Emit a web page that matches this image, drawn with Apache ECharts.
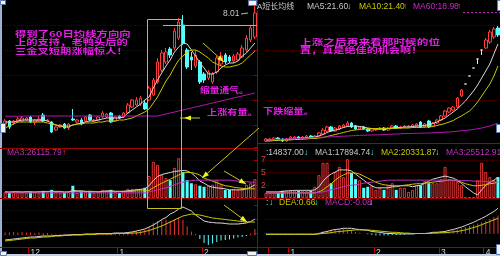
<!DOCTYPE html>
<html><head><meta charset="utf-8">
<script src="https://cdn.jsdelivr.net/npm/echarts@6/dist/echarts.min.js"></script>
<style>html,body{margin:0;padding:0;background:#000;}#c{width:500px;height:256px;}</style>
</head><body><div id="c"></div>
<script>
// ---------------- LEFT PANEL DATA ----------------
const leftTickIdx = [6, 27, 47];
const leftTickText = ['12', '1', '2'];
// [open, close, low, high]
const leftCandles = [
[3.54,3.66,3.46,3.74],[3.66,3.42,3.34,3.70],[3.58,3.66,3.50,3.70],[3.66,3.74,3.58,3.82],[3.66,3.78,3.62,3.86],
[3.70,3.78,3.66,3.82],[3.82,3.62,3.58,3.86],[3.62,3.70,3.50,3.74],[3.66,3.74,3.62,3.86],[3.90,3.66,3.62,3.98],
[3.66,3.70,3.62,3.74],[3.62,3.22,3.18,3.66],[3.30,3.42,3.26,3.46],[3.42,3.50,3.38,3.54],[3.54,3.38,3.34,3.58],
[3.38,3.54,3.30,3.58],[3.74,3.70,3.66,4.14],[3.62,3.70,3.58,3.74],[3.70,3.54,3.50,3.78],[3.66,3.82,3.62,3.86],
[3.90,3.70,3.66,3.94],[3.66,3.70,3.62,3.74],[3.70,3.82,3.66,3.86],[3.82,3.98,3.78,4.06],[3.82,3.94,3.78,3.98],
[3.98,3.62,3.58,4.02],[3.66,3.82,3.62,3.86],[3.86,3.78,3.74,3.90],[3.82,3.98,3.78,4.02],[3.98,4.30,3.94,4.38],
[4.22,4.50,4.18,4.54],[4.30,4.50,4.26,4.62],[4.34,4.58,4.26,4.66],[4.38,4.14,4.10,4.50],[4.50,4.98,4.46,5.06],
[4.70,5.30,4.66,5.38],[5.22,6.02,5.14,6.18],[5.70,6.38,5.62,6.50],[6.02,6.42,5.94,6.58],[6.54,6.30,6.18,6.62],
[6.58,7.26,6.50,7.38],[6.98,7.62,6.90,7.78],[7.50,6.78,6.70,7.90],[6.50,5.82,5.74,6.58],[6.22,6.10,5.70,6.42],
[5.86,6.30,5.78,6.50],[6.02,5.22,5.14,6.10],[5.54,5.30,5.18,5.62],[5.38,5.62,5.30,5.70],[5.22,5.54,5.14,5.62],
[5.62,6.18,5.54,6.26],[5.94,6.26,5.86,6.42],[6.30,6.02,5.94,6.38],[6.22,6.06,5.98,6.30],[6.06,6.26,5.98,6.34],
[6.10,6.34,6.06,6.42],[6.22,6.58,6.18,6.70],[6.50,6.98,6.42,7.10],[6.90,7.38,6.82,7.50],[7.02,7.98,6.94,8.42]
];
const leftMA5 = [3.62,3.62,3.62,3.66,3.70,3.70,3.70,3.70,3.70,3.70,3.66,3.58,3.50,3.46,3.42,3.42,3.50,3.54,3.58,3.62,
3.66,3.66,3.70,3.74,3.78,3.78,3.78,3.78,3.82,3.98,4.10,4.22,4.34,4.50,4.62,4.98,5.30,5.58,5.86,6.10,
6.42,6.62,6.78,6.74,6.50,6.26,5.98,5.78,5.54,5.54,5.62,5.78,5.90,5.98,5.98,6.06,6.26,6.38,6.58,6.78];
const leftMA10 = [3.38,3.46,3.54,3.62,3.62,3.62,3.62,3.62,3.62,3.62,3.58,3.54,3.50,3.46,3.46,3.46,3.50,3.54,3.54,3.58,
3.58,3.58,3.62,3.62,3.66,3.66,3.66,3.70,3.70,3.74,3.78,3.86,3.94,4.02,4.14,4.38,4.62,4.94,5.26,5.50,
5.82,6.10,6.26,6.42,6.50,6.50,6.42,6.30,6.18,6.02,5.94,5.86,5.82,5.82,5.86,5.90,5.98,6.14,6.30,6.46];
const leftMA60 = [3.85,3.85,3.85,3.85,3.85,3.86,3.86,3.86,3.86,3.86,3.86,3.86,3.86,3.86,3.86,3.86,3.86,3.86,3.86,3.86,
3.86,3.86,3.86,3.86,3.86,3.86,3.86,3.86,3.86,3.86,3.86,3.86,3.86,3.86,3.86,3.86,3.86,3.90,3.94,3.98,
4.02,4.06,4.10,4.14,4.18,4.22,4.26,4.30,4.34,4.38,4.42,4.46,4.50,4.54,4.58,4.62,4.66,4.70,4.74,4.78];
const leftVol = [1.2,1.0,1.2,1.2,1.2,1.0,1.2,1.2,1.0,1.4,1.0,1.6,1.2,1.0,1.0,1.2,2.4,1.0,1.2,1.2,
1.4,1.0,1.2,1.6,1.4,1.6,1.2,1.0,1.4,1.8,1.8,1.8,1.8,2.0,4.3,7.1,6.5,4.5,3.9,3.5,
5.9,7.8,5.1,3.5,2.9,2.7,2.4,2.2,2.4,2.6,3.5,2.7,1.6,1.6,1.8,1.6,2.0,2.6,2.9,3.7];
const leftVMA1 = [1.2,1.1,1.2,1.2,1.1,1.2,1.2,1.1,1.2,1.2,1.3,1.3,1.2,1.2,1.1,1.2,1.5,1.4,1.4,1.3,
1.2,1.2,1.2,1.3,1.4,1.4,1.3,1.3,1.3,1.4,1.5,1.6,1.7,1.8,2.4,3.4,4.2,4.6,4.8,5.0,
5.2,5.3,5.4,5.3,4.9,4.2,3.3,2.9,2.4,2.1,2.0,1.9,1.8,1.6,1.6,1.6,1.6,1.8,2.1,2.6];
const leftVMA2 = [1.2,1.2,1.2,1.2,1.2,1.2,1.2,1.2,1.2,1.2,1.2,1.3,1.3,1.3,1.2,1.2,1.3,1.3,1.3,1.3,
1.3,1.3,1.2,1.2,1.3,1.3,1.3,1.3,1.3,1.3,1.3,1.4,1.4,1.4,1.5,2.0,2.5,2.9,3.3,3.7,
4.1,4.5,4.9,5.0,5.0,4.8,4.5,3.9,3.6,3.3,3.0,2.7,2.4,2.3,2.1,2.0,1.9,1.8,1.8,1.8];
const leftVMA3 = [1.0,1.0,1.0,1.0,1.0,1.0,1.0,1.0,1.0,1.0,1.0,1.0,1.0,1.0,1.0,1.0,1.0,1.0,1.0,1.0,
1.0,1.0,1.0,1.0,1.0,1.0,1.0,1.0,1.0,1.0,1.0,1.0,1.0,1.0,1.2,1.4,1.6,1.8,2.0,2.3,
2.6,2.9,3.1,3.3,3.4,3.5,3.5,3.5,3.5,3.5,3.5,3.5,3.5,3.5,3.4,3.3,3.2,3.2,3.1,3.1];
const leftMACD = [0.05,0.05,0.06,0.05,0.06,0.05,0.05,0.04,0.05,0.04,0.04,0.02,0.01,0.02,0.01,0.02,0.02,0.01,0.02,0.02,
0.01,0.02,0.02,0.02,0.02,0.02,0.03,0.03,0.04,0.05,0.06,0.08,0.09,0.10,0.16,0.24,0.28,0.30,0.31,0.28,
0.31,0.35,0.30,0.17,0.07,0.02,-0.08,-0.16,-0.20,-0.17,-0.14,-0.11,-0.10,-0.09,-0.07,-0.05,-0.04,-0.02,0.03,0.12];
const leftDIF = [-0.10,-0.09,-0.08,-0.07,-0.06,-0.05,-0.04,-0.04,-0.03,-0.02,-0.02,-0.02,-0.01,-0.01,0.0,0.0,0.01,0.01,0.01,0.02,
0.02,0.02,0.03,0.03,0.03,0.03,0.04,0.04,0.04,0.05,0.06,0.08,0.10,0.12,0.16,0.20,0.25,0.31,0.35,0.42,
0.46,0.52,0.56,0.52,0.48,0.40,0.34,0.28,0.26,0.25,0.24,0.24,0.23,0.22,0.22,0.22,0.23,0.24,0.27,0.32];
const leftDEA = [-0.12,-0.11,-0.10,-0.09,-0.08,-0.07,-0.06,-0.06,-0.05,-0.04,-0.04,-0.03,-0.02,-0.02,-0.01,-0.01,0.0,0.0,0.0,0.01,
0.01,0.01,0.02,0.02,0.02,0.02,0.03,0.03,0.03,0.03,0.04,0.04,0.05,0.07,0.09,0.12,0.15,0.18,0.22,0.26,
0.30,0.34,0.38,0.40,0.42,0.41,0.40,0.38,0.36,0.34,0.33,0.32,0.31,0.30,0.29,0.28,0.27,0.26,0.26,0.26];

// ---------------- RIGHT PANEL DATA ----------------
const rightTickIdx = [1, 6, 27, 43, 54];
const rightTickText = ['', '1', '2', '3', '4'];
const rightCandles = [
[10.9,11.1,10.8,11.2],[11.0,11.1,10.9,11.2],[11.0,11.2,10.9,11.3],[11.2,11.0,10.9,11.3],[11.1,10.9,10.8,11.2],
[10.9,11.1,10.8,11.2],[11.1,11.3,11.0,11.4],[11.2,11.3,11.1,11.4],[11.3,11.1,11.0,11.4],[11.1,11.3,11.0,11.4],
[11.2,11.4,11.1,11.5],[11.4,11.2,11.1,11.5],[11.2,11.4,11.1,11.5],[11.4,11.7,11.3,11.8],[11.6,12.0,11.5,12.2],
[11.9,12.3,11.8,12.4],[12.3,11.9,11.8,12.4],[11.9,12.2,11.8,12.3],[12.1,12.4,12.0,12.5],[12.3,12.5,12.2,12.6],
[12.4,12.7,12.3,12.9],[12.7,12.3,12.2,12.8],[12.4,12.1,12.0,12.5],[12.1,12.3,12.0,12.4],[12.3,12.1,12.0,12.4],
[12.1,11.9,11.8,12.2],[11.9,12.1,11.8,12.2],[12.0,12.1,11.9,12.2],[12.1,12.2,12.0,12.3],[12.2,12.0,11.9,12.3],
[12.0,12.2,11.9,12.3],[12.2,12.4,12.1,12.5],[12.4,12.2,12.1,12.5],[12.2,12.3,12.1,12.4],[12.3,12.4,12.2,12.5],
[12.3,12.4,12.2,12.5],[12.3,12.5,12.2,12.6],[12.4,12.6,12.3,12.7],[12.8,12.3,12.2,12.9],[12.3,12.6,12.2,12.7],
[12.9,12.3,12.2,13.0],[12.4,12.7,12.3,12.8],[12.7,13.0,12.6,13.1],[13.0,13.4,12.9,13.5],[13.4,13.9,13.3,14.0],
[13.8,14.2,13.7,14.3],[14.0,14.3,13.9,14.4],[14.3,15.2,14.2,15.3],[15.4,16.0,15.3,16.1],[16.6,16.6,16.6,16.6],
[17.4,17.4,17.4,17.4],[18.2,18.2,18.2,18.2],[19.1,19.1,18.6,19.1],[20.0,20.0,19.5,20.0],[20.2,21.0,20.1,21.2],
[20.8,21.8,20.6,22.0],[21.3,22.1,21.1,22.3],[22.2,21.5,21.3,22.4]
];
const rightMA5 = [11.0,11.0,11.05,11.05,11.05,11.05,11.1,11.15,11.2,11.2,11.25,11.25,11.3,11.4,11.55,11.75,11.9,12.0,12.1,12.25,
12.35,12.4,12.4,12.35,12.3,12.2,12.15,12.1,12.1,12.1,12.15,12.2,12.25,12.25,12.3,12.3,12.35,12.4,12.4,12.45,
12.55,12.65,12.8,13.0,13.2,13.5,13.8,14.1,14.5,14.9,15.4,15.9,16.5,17.2,17.9,18.6,19.6,20.6];
const rightMA10 = [10.9,10.9,10.95,10.95,11.0,11.0,11.0,11.05,11.05,11.1,11.1,11.15,11.15,11.2,11.25,11.35,11.45,11.55,11.65,11.75,
11.85,11.95,12.0,12.05,12.1,12.1,12.15,12.15,12.15,12.15,12.15,12.15,12.15,12.2,12.2,12.2,12.25,12.25,12.25,12.3,
12.3,12.35,12.45,12.55,12.65,12.8,12.95,13.2,13.4,13.65,13.9,14.3,14.8,15.4,16.0,16.6,17.4,18.4];
const rightMA60 = [11.0,11.02,11.04,11.06,11.08,11.1,11.12,11.14,11.16,11.18,11.2,11.22,11.24,11.26,11.28,11.3,11.32,11.34,11.36,11.38,
11.4,11.42,11.44,11.46,11.48,11.49,11.5,11.51,11.52,11.54,11.56,11.58,11.6,11.62,11.64,11.65,11.66,11.67,11.68,11.69,
11.7,11.72,11.74,11.76,11.78,11.8,11.84,11.88,11.92,11.96,12.0,12.06,12.12,12.2,12.3,12.4,12.54,12.7];
const rightVol = [1.0,1.0,1.0,1.0,1.4,1.4,1.6,1.4,1.4,1.4,1.4,1.4,2.2,4.5,6.9,6.9,2.9,5.1,6.1,4.1,
7.6,4.9,3.7,3.5,2.0,2.2,2.4,1.6,2.0,1.6,2.5,2.9,1.6,2.0,2.0,1.2,1.6,2.5,2.5,3.3,
2.9,2.9,2.9,3.7,6.1,3.7,3.5,3.1,2.5,0.2,0.2,0.2,3.5,6.9,5.1,4.1,3.5,4.1];
const rightVMA1 = [1.2,1.2,1.2,1.2,1.3,1.4,1.4,1.5,1.5,1.5,1.5,1.5,1.6,2.2,3.3,4.1,4.7,5.1,5.5,5.5,
5.5,5.3,4.7,4.1,3.5,2.9,2.4,2.0,2.0,2.0,2.0,2.2,2.2,2.4,2.4,2.4,2.2,2.4,2.5,2.9,
3.3,3.7,3.9,4.1,4.3,4.1,3.9,3.5,2.9,2.2,1.6,1.0,0.6,1.6,2.5,3.1,3.5,4.1];
const rightVMA2 = [1.0,1.0,1.0,1.0,1.0,1.0,1.0,1.0,1.0,1.0,1.0,1.0,1.0,1.2,1.6,2.2,2.8,3.5,4.1,4.5,
4.9,4.9,4.9,4.7,4.3,3.9,3.5,3.1,2.8,2.6,2.5,2.4,2.4,2.4,2.5,2.6,2.7,2.8,2.8,2.9,
3.0,3.1,3.2,3.3,3.4,3.5,3.5,3.3,3.1,2.8,2.6,2.4,2.4,2.5,2.6,2.8,2.9,3.1];
const rightVMA3 = [1.0,1.0,1.0,1.0,1.0,1.0,1.0,1.0,1.0,1.0,1.0,1.0,1.0,1.1,1.2,1.4,1.6,1.8,2.0,2.2,
2.4,2.5,2.6,2.7,2.9,3.0,3.1,3.2,3.3,3.4,3.5,3.5,3.5,3.5,3.5,3.5,3.5,3.5,3.5,3.5,
3.5,3.5,3.5,3.5,3.5,3.5,3.5,3.5,3.4,3.4,3.4,3.3,3.3,3.3,3.2,3.2,3.2,3.1];
const rightMACD = [0.01,0.01,0.0,0.01,0.0,0.01,0.01,0.0,0.01,0.01,0.0,0.01,0.01,0.02,0.05,0.07,0.09,0.1,0.1,0.11,
0.1,0.09,0.04,0.02,0.0,-0.02,-0.04,-0.05,-0.05,-0.05,-0.05,-0.04,-0.04,-0.03,-0.03,-0.02,-0.02,-0.01,0.0,0.0,
0.01,0.02,0.02,0.03,0.03,0.05,0.08,0.1,0.13,0.16,0.19,0.22,0.25,0.28,0.32,0.36,0.41,0.45];
const rightDIF = [-0.02,-0.02,-0.02,-0.02,-0.02,-0.02,-0.02,-0.02,-0.02,-0.02,-0.02,-0.02,-0.02,0.0,0.03,0.05,0.08,0.1,0.11,0.13,
0.13,0.13,0.11,0.1,0.09,0.08,0.05,0.04,0.03,0.01,0.0,0.0,-0.01,-0.01,-0.01,-0.01,-0.01,0.0,0.0,0.0,
0.01,0.03,0.03,0.04,0.05,0.08,0.1,0.13,0.16,0.2,0.24,0.28,0.33,0.38,0.43,0.49,0.55,0.63];
const rightDEA = [-0.02,-0.02,-0.02,-0.02,-0.02,-0.02,-0.02,-0.02,-0.02,-0.02,-0.02,-0.02,-0.02,-0.01,0.0,0.01,0.02,0.04,0.05,0.06,
0.07,0.08,0.09,0.09,0.09,0.09,0.08,0.07,0.06,0.05,0.04,0.03,0.03,0.02,0.01,0.01,0.0,0.0,0.0,0.0,
0.0,0.01,0.01,0.02,0.02,0.03,0.04,0.05,0.07,0.09,0.12,0.15,0.18,0.22,0.26,0.3,0.34,0.38];

// ---------------- STYLES ----------------
const RED = '#ff3c3c', CYAN = '#54ffff', WHITE = '#d6d6d6', YEL = '#c8c800', MAG = '#c030c0', PUR = '#b018b0';
const SEP = '#a00000', DOT = '#420000';
const LATIN = "'Liberation Sans','DejaVu Sans','Noto Sans CJK SC'";
const CJK = "'Noto Sans CJK SC'";

function cats(n){ return Array.from({length:n}, (_, i) => String(i)); }

function xAxisFor(gi, n, bottom, tickIdx, tickText){
  const a = {type:'category', gridIndex:gi, data:cats(n), boundaryGap:true,
    axisLine:{show:false, onZero:false}, axisTick:{show:false}, axisLabel:{show:false}, splitLine:{show:false}};
  if (bottom){
    a.axisTick = {show:true, length:6, interval:(i)=>tickIdx.indexOf(i) >= 0, lineStyle:{color:'#c00000', width:1}};
    a.axisLabel = {show:true, interval:0, margin:1, align:'left', color:'#d4d4d4', fontSize:8.5, fontFamily:LATIN,
      formatter:(v, i)=>{ const k = tickIdx.indexOf(i); return k >= 0 ? tickText[k] : ''; }};
  }
  return a;
}
function yAxisFor(gi, min, max, interval, right, labels){
  const a = {type:'value', gridIndex:gi, min:min, max:max, interval:interval, scale:false,
    axisLine:{show:false}, axisTick:{show:false}, axisLabel:{show:false},
    splitLine:{show:true, showMinLine:false, showMaxLine:false, lineStyle:{color:DOT, type:'dotted', width:1}}};
  if (right){
    a.position = 'left'; a.offset = 7;
    a.axisLine = {show:true, onZero:false, lineStyle:{color:SEP, width:1}};
    a.axisTick = {show:true, length:3, lineStyle:{color:SEP}};
  }
  if (labels){
    a.axisLabel = {show:true, inside:true, margin:4, color:'#d04848', fontSize:8.5, fontFamily:LATIN,
      formatter:(v)=> (v > 0 && v < max) ? String(Math.floor(v)) : ''};
  }
  return a;
}
function volData(vols, candles){
  return vols.map((v, i) => ({value:v, itemStyle: candles[i][1] >= candles[i][0]
    ? {color:'#000', borderColor:'#e83434', borderWidth:1} : {color:CYAN, borderColor:CYAN, borderWidth:0}}));
}
function macdData(arr){
  return arr.map(v => ({value:v, itemStyle:{color: v >= 0 ? '#e83434' : CYAN}}));
}
function line(data, xi, yi, color, z){
  return {type:'line', data:data, xAxisIndex:xi, yAxisIndex:yi, showSymbol:false, symbol:'none', clip:true,
    lineStyle:{color:color, width:1}, z:z || 3, silent:true};
}
const candleStyle = {color:'#000', color0:CYAN, borderColor:RED, borderColor0:CYAN, borderColorDoji:'#e8e8e8', borderWidth:1};

const series = [
  {type:'candlestick', data:leftCandles, xAxisIndex:0, yAxisIndex:0, barWidth:3, itemStyle:candleStyle, z:2, clip:true},
  line(leftMA5, 0, 0, WHITE), line(leftMA10, 0, 0, YEL), line(leftMA60, 0, 0, PUR),
  {type:'bar', data:volData(leftVol, leftCandles), xAxisIndex:1, yAxisIndex:1, barWidth:3, z:2},
  line(leftVMA1, 1, 1, WHITE), line(leftVMA2, 1, 1, YEL), line(leftVMA3, 1, 1, MAG),
  {type:'bar', data:macdData(leftMACD), xAxisIndex:2, yAxisIndex:2, barWidth:1, z:2},
  line(leftDIF, 2, 2, WHITE), line(leftDEA, 2, 2, YEL),
  {type:'candlestick', data:rightCandles, xAxisIndex:3, yAxisIndex:3, barWidth:3, itemStyle:candleStyle, z:2, clip:true},
  line(rightMA5, 3, 3, WHITE), line(rightMA10, 3, 3, YEL), line(rightMA60, 3, 3, PUR),
  {type:'bar', data:volData(rightVol, rightCandles), xAxisIndex:4, yAxisIndex:4, barWidth:3, z:2},
  line(rightVMA1, 4, 4, WHITE), line(rightVMA2, 4, 4, YEL), line(rightVMA3, 4, 4, MAG),
  {type:'bar', data:macdData(rightMACD), xAxisIndex:5, yAxisIndex:5, barWidth:1, z:2},
  line(rightDIF, 5, 5, WHITE), line(rightDEA, 5, 5, YEL)
];

// ---------------- ANNOTATION GRAPHICS ----------------
const G = [];
function gLine(x1, y1, x2, y2, color, w, dash){
  G.push({type:'line', z:100, silent:true, shape:{x1, y1, x2, y2}, style:{stroke:color, lineWidth:w || 1, lineDash:dash || null}});
}
function gRect(x, y, w, h, fill, stroke){
  G.push({type:'rect', z:100, silent:true, shape:{x, y, width:w, height:h}, style:{fill:fill || 'none', stroke:stroke || null, lineWidth:1}});
}
function gHead(x1, y1, x2, y2, color, len, half){
  const dx = x2 - x1, dy = y2 - y1, d = Math.sqrt(dx*dx + dy*dy), ux = dx/d, uy = dy/d;
  const bx = x2 - ux*len, by = y2 - uy*len;
  G.push({type:'polygon', z:101, silent:true, shape:{points:[[x2, y2], [bx - uy*half, by + ux*half], [bx + uy*half, by - ux*half]]},
    style:{fill:color}});
}
function gText(text, x, y, fill, size, family, weight, sx){
  G.push({type:'text', z:102, silent:true, x:x, y:y, scaleX:sx || 1, originX:0, originY:0,
    style:{text:text, fill:fill, fontSize:size, fontFamily:family, fontWeight:weight || 'normal',
      textAlign:'left', textVerticalAlign:'middle', verticalAlign:'middle'}});
}
// frame borders & separators
gRect(0, 0, 2, 256, '#9db2d4');
gRect(0, 254, 500, 2, '#c4d0e4');
gLine(0, 148.5, 257, 148.5, SEP);
gLine(257, 143.5, 500, 143.5, SEP);
gLine(0, 198.5, 500, 198.5, SEP);
gLine(0, 247.5, 500, 247.5, SEP);
gLine(257.5, 0, 257.5, 254, SEP);
// small white handles
[[0,0,5,4],[0,123,5,9],[248,0,8,5],[0,251,6,4],[247,251,9,4],[497,0,3,10],[496,124,4,8],[496,244,4,10]]
  .forEach(b => gRect(b[0] + 0.5, b[1] + 0.5, b[2], b[3], '#f2f2f2', '#5a78b8'));

// left texts
gText('MA3:26115.79', 7, 153, MAG, 8.5, LATIN);
gText('↑', 62, 153, RED, 8.5, LATIN);
gText('8.01', 223, 14, '#c8c8c8', 8.5, LATIN);
gLine(241, 14, 248, 13, '#b8b8b8');
// right title row
gText('A短长均线', 257, 7, '#c8c8c8', 8, LATIN);
gText('MA5:21.60', 307, 7, '#c8c8c8', 8.5, LATIN);
gText('↓', 347, 7, CYAN, 8.5, LATIN);
gText('MA10:21.40', 359, 7, YEL, 8.5, LATIN);
gText('↑', 403, 7, RED, 8.5, LATIN);
gText('MA60:18.98', 413, 7, MAG, 8.5, LATIN);
gText('↑', 457, 7, RED, 8.5, LATIN);
gLine(463, 12.5, 500, 12.5, '#c030c0', 1, [2, 2]);
// right volume label row
gText(':14837.00', 266, 153, '#c8c8c8', 8.5, LATIN);
gText('↓', 304, 153, CYAN, 8.5, LATIN);
gText('MA1:17894.74', 315, 153, '#c8c8c8', 8.5, LATIN);
gText('↓', 370, 153, CYAN, 8.5, LATIN);
gText('MA2:20331.87', 381, 153, YEL, 8.5, LATIN);
gText('↓', 435, 153, CYAN, 8.5, LATIN);
gText('MA3:25512.91', 446, 153, MAG, 8.5, LATIN);
// right MACD label row
gText(':', 266, 203, '#c8c8c8', 8.5, LATIN);
gText('↓', 269, 203, CYAN, 8.5, LATIN);
gText('DEA:0.66', 279, 203, YEL, 8.5, LATIN);
gText('↓', 314, 203, CYAN, 8.5, LATIN);
gText('MACD:-0.08', 325, 203, MAG, 8.5, LATIN);
gText('↓', 369, 203, CYAN, 8.5, LATIN);

// Chinese annotations
const PINK = '#e81ee8';
gText('得到了60日均线方向向', 15, 33.5, PINK, 8, CJK, 'bold', 1.42);
gText('上的支持，老鸭头后的', 15, 42, PINK, 8, CJK, 'bold', 1.41);
gText('三金叉短期涨幅惊人！', 15, 50.5, PINK, 8, CJK, 'bold', 1.41);
gText('上涨之后再来看那时候的位', 300, 41.5, PINK, 8, CJK, 'bold', 1.46);
gText('置，真是绝佳的机会啊！', 300, 50, PINK, 8, CJK, 'bold', 1.39);
gText('缩量通气。', 200, 90, PINK, 8, CJK, 'bold', 1.22);
gText('上涨有量。', 207, 111.5, PINK, 8, CJK, 'bold', 1.27);
gText('下跌缩量。', 263, 110.5, PINK, 8, CJK, 'bold', 1.27);

// yellow box, level line and arrows
const AY = '#c8c020', AH = '#f4f428';
gRect(147.5, 19.5, 34, 189, 'none', AY);
gLine(163, 25.5, 257, 25.5, AY);
gLine(203, 43, 224, 62, AY); gHead(203, 43, 224, 62, AH, 7, 2.6);
gLine(180, 118, 200, 118, AY); gHead(200, 118, 184, 118, AH, 7, 2.6);
gLine(259, 128, 202, 178, AY); gHead(259, 128, 202, 178, AH, 7, 2.6);
gLine(224, 171, 246, 184, AY); gHead(224, 171, 246, 184, AH, 7, 2.6);
gLine(224, 205, 247, 222, AY); gHead(224, 205, 247, 222, AH, 7, 2.6);

const grids = [
  {left:3, top:0, width:254, height:150},
  {left:3, top:147, width:254, height:51},
  {left:3, top:200, width:254, height:47.5},
  {left:264, top:0, width:236, height:150},
  {left:264, top:147, width:236, height:51},
  {left:264, top:205.5, width:236, height:42}
].map(g => Object.assign(g, {containLabel:false, outerBoundsMode:'none', show:false}));

const chart = echarts.init(document.getElementById('c'), null, {renderer:'canvas', width:500, height:256, devicePixelRatio:1});
chart.setOption({
  backgroundColor:'#000',
  animation:false,
  grid:grids,
  xAxis:[
    xAxisFor(0, leftCandles.length, false), xAxisFor(1, leftCandles.length, false),
    xAxisFor(2, leftCandles.length, true, leftTickIdx, leftTickText),
    xAxisFor(3, rightCandles.length, false), xAxisFor(4, rightCandles.length, false),
    xAxisFor(5, rightCandles.length, true, rightTickIdx, rightTickText)
  ],
  yAxis:[
    yAxisFor(0, 2.5, 8.5, 1, false), yAxisFor(1, 0, 10, 2.5, false), yAxisFor(2, -0.25, 0.7, 0.25, false),
    yAxisFor(3, 10, 25, 2.5, true), yAxisFor(4, 0, 10, 2.5, true, true), yAxisFor(5, -0.35, 0.7, 0.35, true)
  ],
  series:series,
  graphic:{elements:G}
});
</script></body></html>
